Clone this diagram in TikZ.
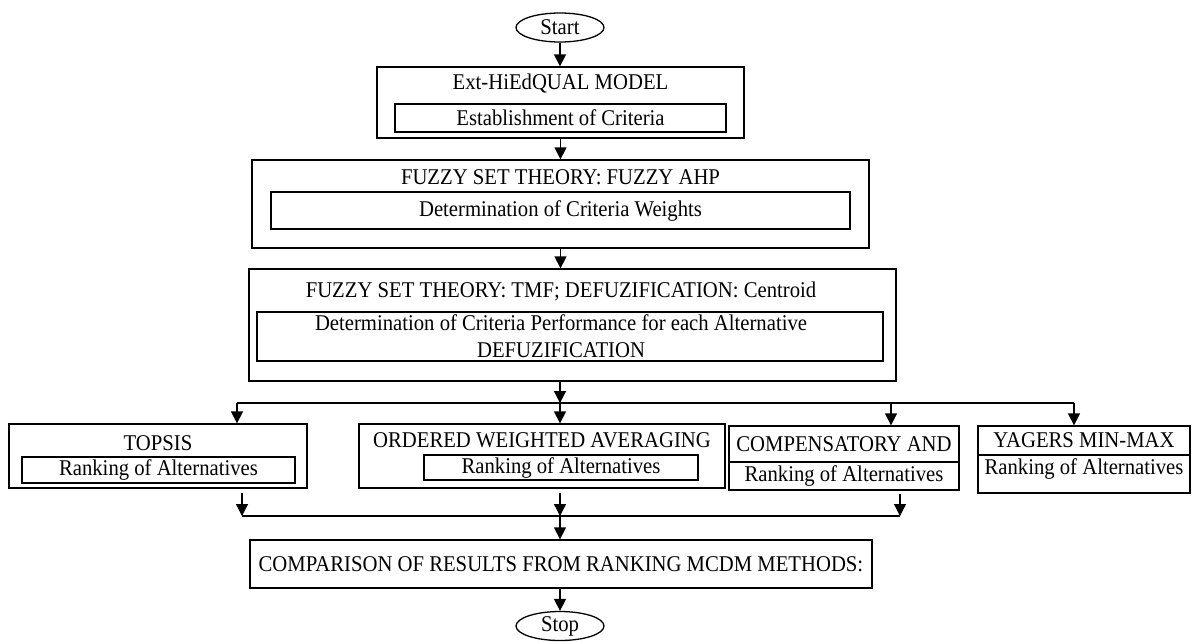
\documentclass[tikz,border=0pt]{standalone}
\usepackage{fontspec}
\setmainfont{Liberation Serif}[FakeStretch=0.92]
\usetikzlibrary{arrows.meta,shapes.geometric}
\begin{document}
\begin{tikzpicture}[x=1pt,y=-1pt,
  box/.style={draw, line width=1.3pt, inner sep=0pt},
  lbl/.style={inner sep=0pt, font=\fontsize{22.5}{27}\selectfont, align=center},
  arr/.style={line width=1.3pt, -{Triangle[width=12pt,length=12pt]}},
  ln/.style={line width=1.3pt},
  term/.style={draw, ellipse, line width=1.3pt, minimum width=88pt, minimum height=29pt, inner sep=0pt, font=\fontsize{22.5}{24}\selectfont}]
\useasboundingbox (0,0) rectangle (1194,641);
% terminals
\node[term] (start) at (560,27.5) {Start};
\node[term] (stop) at (560,626) {Stop};
% Ext-HiEdQUAL
\node[box, minimum width=367pt, minimum height=71pt] (ext) at (560.5,102.5) {};
\node[lbl] (extt) at (560.5,84) {Ext-HiEdQUAL MODEL};
\node[box, lbl, minimum width=331pt, minimum height=28pt] (exti) at (560.5,118) {Establishment of Criteria};
% Fuzzy AHP
\node[box, minimum width=617pt, minimum height=88pt] (ahp) at (560.5,204) {};
\node[lbl] (ahpt) at (560.5,177) {FUZZY SET THEORY: FUZZY AHP};
\node[box, lbl, minimum width=579pt, minimum height=37pt] (ahpi) at (560.5,210.5) {Determination of Criteria Weights};
% TMF
\node[box, minimum width=647pt, minimum height=112pt] (tmf) at (572.5,325) {};
\node[lbl] (tmft) at (561,291) {FUZZY SET THEORY: TMF; DEFUZIFICATION: Centroid};
\node[box, minimum width=626pt, minimum height=49pt] (tmfi) at (570,336.5) {};
\node[lbl] (tmfit) at (561,336.5) {Determination of Criteria Performance for each Alternative\\DEFUZIFICATION};
% TOPSIS
\node[box, minimum width=298pt, minimum height=64pt] (top) at (158,456) {};
\node[lbl] (topt) at (158,443) {TOPSIS};
\node[box, lbl, minimum width=273pt, minimum height=26pt] (topi) at (158.5,470) {Ranking of Alternatives};
% OWA
\node[box, minimum width=366pt, minimum height=64pt] (owa) at (542,456) {};
\node[lbl] (owat) at (542,440) {ORDERED WEIGHTED AVERAGING};
\node[box, lbl, minimum width=274pt, minimum height=25pt] (owai) at (561,467.5) {Ranking of Alternatives};
% Compensatory AND
\node[box, lbl, minimum width=230pt, minimum height=36pt] (comp) at (844,444) {COMPENSATORY AND};
\node[box, lbl, minimum width=230pt, minimum height=28pt] (compi) at (844,476) {Ranking of Alternatives};
% Yagers
\node[box, lbl, minimum width=212pt, minimum height=29pt] (yag) at (1084,440.5) {YAGERS MIN-MAX};
\node[box, minimum width=212pt, minimum height=38pt] (yagi) at (1084,474) {};
\node[lbl] (yagit) at (1084,469) {Ranking of Alternatives};
% Comparison
\node[box, lbl, minimum width=622pt, minimum height=48pt] (cmp) at (561,564) {COMPARISON OF RESULTS FROM RANKING MCDM METHODS:};
% connectors
\draw[arr] (start.south) -- (start.south |- ext.north);
\draw[arr] (ext.south) -- (ext.south |- ahp.north);
\draw[arr] (ahp.south) -- (ahp.south |- tmf.north);
\coordinate (s) at (560,403);
\coordinate (sT) at (237,403);
\coordinate (sC) at (891,403);
\coordinate (sY) at (1074,403);
\draw[arr] (tmf.south -| s) -- (s);
\draw[ln] (sT) -- (sY);
\draw[arr] (sT) -- (sT |- top.north);
\draw[arr] (s) -- (s |- owa.north);
\draw[arr] (sC) -- (sC |- comp.north);
\draw[arr] (sY) -- (sY |- yag.north);
\coordinate (m1) at (242,493);
\coordinate (mT) at (242,516);
\coordinate (m2) at (560,493);
\coordinate (mO) at (560,516);
\coordinate (m3) at (900,494);
\coordinate (mC) at (900,516);
\draw[arr] (m1) -- (mT);
\draw[arr] (m2) -- (mO);
\draw[arr] (m3) -- (mC);
\draw[ln] (mT) -- (mC);
\draw[arr] (mO) -- (mO |- cmp.north);
\draw[arr] (cmp.south -| stop) -- (stop.north);
\end{tikzpicture}
\end{document}
